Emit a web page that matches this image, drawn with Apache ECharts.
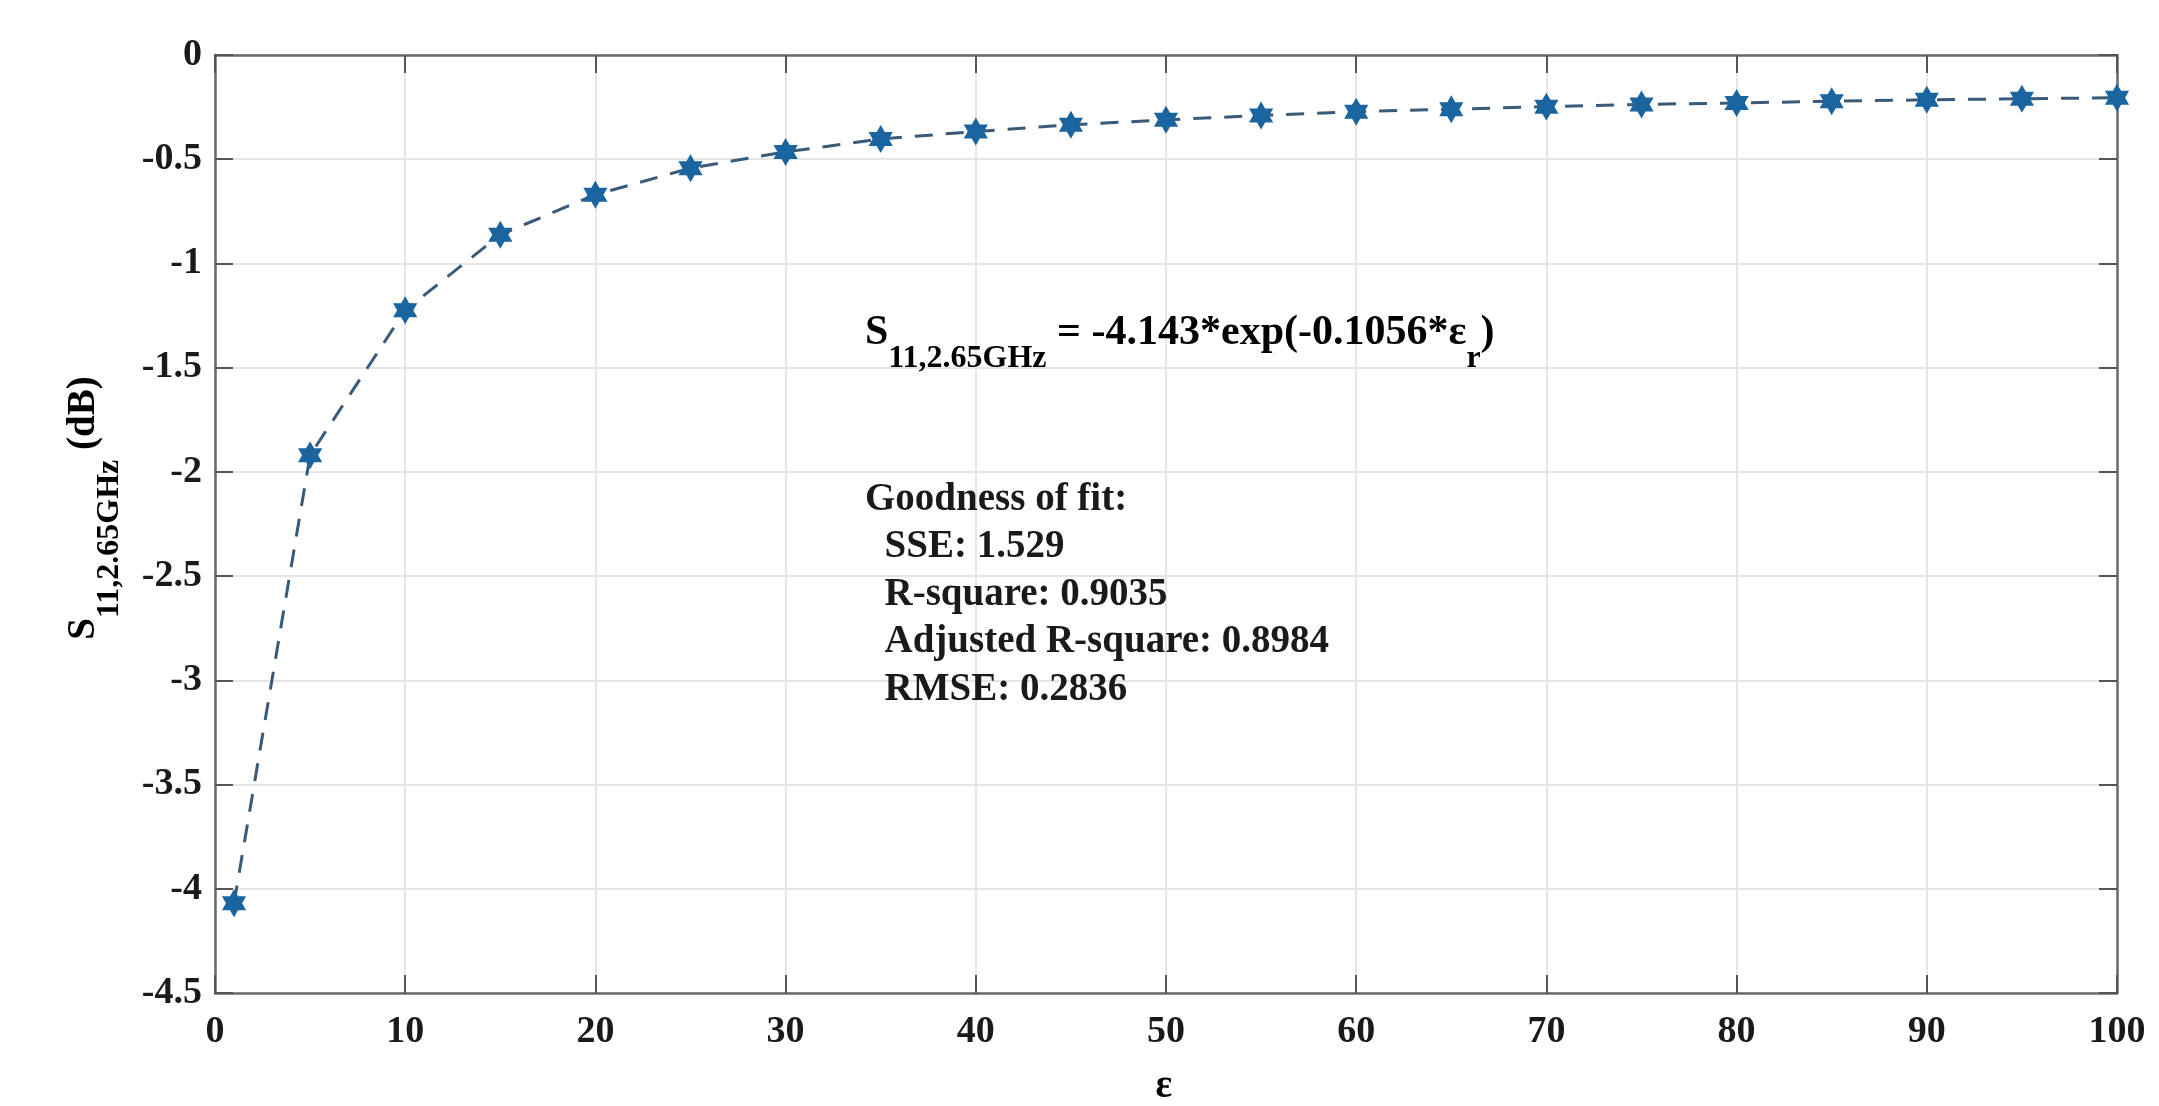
<!DOCTYPE html>
<html>
<head>
<meta charset="utf-8">
<script src="https://cdn.jsdelivr.net/npm/echarts@6/dist/echarts.min.js"></script>
<style>
html,body{margin:0;padding:0;background:#fff;}
#chart{width:2159px;height:1106px;}
</style>
</head>
<body>
<div id="chart"></div>
<script>
// ---- data ----
const epsR = [1, 5, 10, 15, 20, 25, 30, 35, 40, 45, 50, 55, 60, 65, 70, 75, 80, 85, 90, 95, 100];
const s11 = [-4.07, -1.92, -1.225, -0.862, -0.67, -0.543, -0.465, -0.403, -0.367, -0.335, -0.311, -0.29, -0.272, -0.26, -0.248, -0.237, -0.23, -0.222, -0.215, -0.21, -0.205];

// axis ticks
const xTicks = { min: 0, max: 100, interval: 10 };
const yTicks = { min: -4.5, max: 0, interval: 0.5 };

// texts
const yLabelMain = 'S';
const yLabelSub = '11,2.65GHz';
const yLabelUnit = ' (dB)';
const xLabelMain = 'ε';
const xLabelSub = 'r';
const eqParts = ['S', '11,2.65GHz', ' = -4.143*exp(-0.1056*ε', 'r', ')'];
const fitLines = ['Goodness of fit:', '  SSE: 1.529', '  R-square: 0.9035', '  Adjusted R-square: 0.8984', '  RMSE: 0.2836'];

const FONT = '"Liberation Serif", "Times New Roman", serif';
const TXT = '#1a1a1a';
const rich = {
  m: { fontFamily: FONT, fontWeight: 'bold', fontSize: 39, color: TXT },
  s: { fontFamily: FONT, fontWeight: 'bold', fontSize: 32, color: TXT, padding: [52, 0, 0, 0] }
};
const richEq = {
  m: { fontFamily: FONT, fontWeight: 'bold', fontSize: 42, color: TXT },
  s: { fontFamily: FONT, fontWeight: 'bold', fontSize: 32, color: TXT, padding: [52, 0, 0, 0] }
};

const hexagram = 'path://M10 0 L12.89 5 L18.66 5 L15.77 10 L18.66 15 L12.89 15 L10 20 L7.11 15 L1.34 15 L4.23 10 L1.34 5 L7.11 5 Z';

const axisLineStyle = { color: '#6a6a6a', width: 2.5 };
const tickStyle = { color: '#555', width: 2 };
const gridLine = { color: '#e6e6e6', width: 2 };
const labelStyle = { fontFamily: FONT, fontWeight: 'bold', fontSize: 38, color: TXT };

const chart = echarts.init(document.getElementById('chart'), null, { renderer: 'canvas' });

const option = {
  backgroundColor: '#ffffff',
  animation: false,
  grid: { left: 215, right: 42, top: 55, bottom: 113, containLabel: false },
  xAxis: [
    {
      type: 'value', position: 'bottom',
      min: xTicks.min, max: xTicks.max, interval: xTicks.interval,
      axisLine: { show: true, onZero: false, lineStyle: axisLineStyle },
      axisTick: { show: true, inside: true, length: 18, lineStyle: tickStyle },
      axisLabel: Object.assign({ margin: 20 }, labelStyle),
      splitLine: { show: true, lineStyle: gridLine }
    },
    {
      type: 'value', position: 'top',
      min: xTicks.min, max: xTicks.max, interval: xTicks.interval,
      axisLine: { show: true, onZero: false, lineStyle: axisLineStyle },
      axisTick: { show: true, inside: true, length: 18, lineStyle: tickStyle },
      axisLabel: { show: false },
      splitLine: { show: false }
    }
  ],
  yAxis: [
    {
      type: 'value', position: 'left',
      min: yTicks.min, max: yTicks.max, interval: yTicks.interval,
      axisLine: { show: true, onZero: false, lineStyle: axisLineStyle },
      axisTick: { show: true, inside: true, length: 18, lineStyle: tickStyle },
      axisLabel: Object.assign({ margin: 13 }, labelStyle),
      splitLine: { show: true, lineStyle: gridLine }
    },
    {
      type: 'value', position: 'right',
      min: yTicks.min, max: yTicks.max, interval: yTicks.interval,
      axisLine: { show: true, onZero: false, lineStyle: axisLineStyle },
      axisTick: { show: true, inside: true, length: 18, lineStyle: tickStyle },
      axisLabel: { show: false },
      splitLine: { show: false }
    }
  ],
  series: [
    {
      type: 'line',
      xAxisIndex: 0, yAxisIndex: 0,
      data: epsR.map((x, i) => [x, s11[i]]),
      symbol: hexagram,
      symbolSize: 28,
      symbolKeepAspect: true,
      showAllSymbol: true,
      itemStyle: { color: '#1a64a0' },
      lineStyle: { color: '#3a5a7a', width: 3, type: [18, 13] },
      z: 3
    }
  ],
  graphic: [
    {
      type: 'text', x: 84, y: 508, rotation: Math.PI / 2, z: 100,
      style: {
        text: '{m|' + yLabelMain + '}{s|' + yLabelSub + '}{m|' + yLabelUnit + '}',
        rich: rich, align: 'center', verticalAlign: 'middle'
      }
    },
    {
      type: 'text', x: 1171, y: 1087, z: 100,
      style: {
        text: '{m|' + xLabelMain + '}{s|' + xLabelSub + '}',
        rich: rich, align: 'center', verticalAlign: 'middle'
      }
    },
    {
      type: 'text', x: 865, y: 333, z: 100,
      style: {
        text: '{m|' + eqParts[0] + '}{s|' + eqParts[1] + '}{m|' + eqParts[2] + '}{s|' + eqParts[3] + '}{m|' + eqParts[4] + '}',
        rich: richEq, align: 'left', verticalAlign: 'middle'
      }
    },
    {
      type: 'text', x: 865, y: 476, z: 100,
      style: {
        text: fitLines.join('\n'),
        fontFamily: FONT, fontWeight: 'bold', fontSize: 39, fill: TXT,
        lineHeight: 47.5, align: 'left', verticalAlign: 'top'
      }
    }
  ]
};
chart.setOption(option);
</script>
</body>
</html>
